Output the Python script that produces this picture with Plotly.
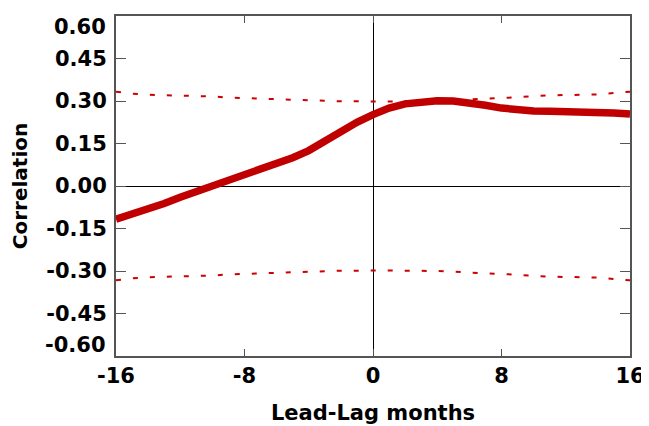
import plotly.graph_objects as go

months = list(range(-16, 17))
correlation = [-0.117, -0.100, -0.082, -0.062, -0.040, -0.020, 0.000, 0.019, 0.037,
               0.056, 0.078, 0.100, 0.125, 0.158, 0.195, 0.225, 0.252, 0.275, 0.290,
               0.298, 0.301, 0.300, 0.294, 0.285, 0.275, 0.268, 0.265, 0.264, 0.264,
               0.263, 0.261, 0.258, 0.254]
sig_upper = [0.333, 0.326, 0.322, 0.321, 0.320, 0.319, 0.316, 0.312, 0.310, 0.309,
             0.307, 0.304, 0.301, 0.300, 0.299, 0.299, 0.298, 0.298, 0.299, 0.299,
             0.300, 0.302, 0.306, 0.309, 0.310, 0.313, 0.318, 0.320, 0.321, 0.321,
             0.323, 0.328, 0.333]
sig_lower = [-v for v in sig_upper]

x_ticks = [-16, -8, 0, 8, 16]
x_tick_labels = ["-16", "-8", "0", "8", "16"]
y_ticks = [-0.60, -0.45, -0.30, -0.15, 0.00, 0.15, 0.30, 0.45, 0.60]
y_tick_labels = ["-0.60", "-0.45", "-0.30", "-0.15", "0.00", "0.15", "0.30", "0.45", "0.60"]

FONT = "DejaVu Sans"
RED = "#c00000"
TICKFONT = dict(family=FONT, size=21, color="black", weight="bold")

fig = go.Figure()
for band in (sig_upper, sig_lower):
    fig.add_trace(go.Scatter(x=months, y=band, mode="lines",
                             line=dict(color="#cc0000", width=2, dash="5px,12px"),
                             hoverinfo="skip", showlegend=False))
fig.add_trace(go.Scatter(x=months, y=correlation, mode="lines",
                         line=dict(color=RED, width=7.5),
                         showlegend=False))

# extreme y labels sit inside the axis span (top-aligned / bottom-aligned)
inner_text = [""] + y_tick_labels[1:-1] + [""]
fig.add_annotation(x=0, xref="paper", y=y_ticks[-1], yref="y", text=y_tick_labels[-1],
                   xanchor="right", yanchor="top", xshift=-8, yshift=3,
                   showarrow=False, font=TICKFONT)
fig.add_annotation(x=0, xref="paper", y=y_ticks[0], yref="y", text=y_tick_labels[0],
                   xanchor="right", yanchor="bottom", xshift=-8, yshift=-3,
                   showarrow=False, font=TICKFONT)

# page body has an 8px margin, so the figure is offset by (8, 8)
fig.update_layout(
    width=641, height=418,
    margin=dict(l=108, r=19, t=8, b=70, autoexpand=False),
    paper_bgcolor="white", plot_bgcolor="white",
    font=dict(family=FONT, size=21, color="black", weight="bold"),
)
fig.update_xaxes(
    range=[-16, 16], tickvals=x_ticks, ticktext=x_tick_labels, automargin=False,
    ticks="inside", ticklen=7, tickcolor="#555", tickwidth=1,
    showline=True, linecolor="#555", linewidth=2, mirror="ticks",
    showgrid=False, zeroline=True, zerolinecolor="black", zerolinewidth=1,
    tickfont=TICKFONT, ticklabeloverflow="allow",
    title=dict(text="Lead-Lag months", font=dict(family=FONT, size=21, weight="bold"), standoff=18),
)
fig.update_yaxes(
    range=[-0.6, 0.6], tickvals=y_ticks, ticktext=inner_text, automargin=False,
    ticks="inside", ticklen=10, tickcolor="#555", tickwidth=1,
    showline=True, linecolor="#555", linewidth=2, mirror="ticks",
    showgrid=False, zeroline=True, zerolinecolor="black", zerolinewidth=1,
    ticklabelstandoff=3,
    tickfont=TICKFONT,
    title=dict(text="Correlation", font=dict(family=FONT, size=20, weight="bold"), standoff=15),
)
fig.write_html("out.html")
